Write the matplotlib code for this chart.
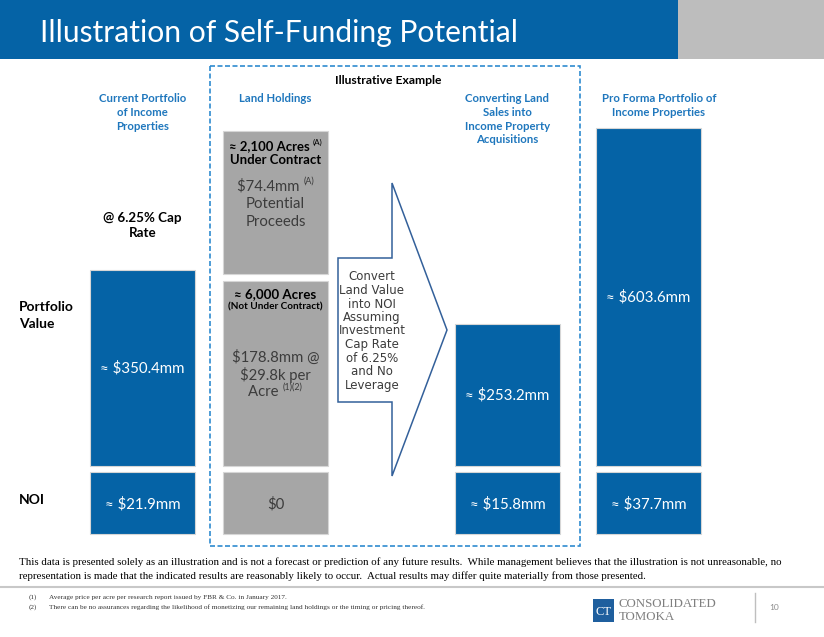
import matplotlib
matplotlib.use("Agg")
import matplotlib.pyplot as plt
from matplotlib.patches import Rectangle, Polygon

# ---------------- data ----------------
title = "Illustration of Self-Funding Potential"
column_headers = ["Current Portfolio\nof Income\nProperties",
                  "Land Holdings",
                  "Converting Land\nSales into\nIncome Property\nAcquisitions",
                  "Pro Forma Portfolio of\nIncome Properties"]
row_labels = ["Portfolio\nValue", "NOI"]
portfolio_value_mm = [350.4, 253.2, 603.6]      # current, converted, pro forma
noi_mm = [21.9, 0.0, 15.8, 37.7]                # current, land, converted, pro forma
land_acres = [2100, 6000]                       # under contract, not under contract
land_value_mm = [74.4, 178.8]
price_per_acre_k = 29.8
cap_rate_pct = 6.25
callout_lines = ["Convert", "Land Value", "into NOI", "Assuming", "Investment",
                 "Cap Rate", "of 6.25%", "and No", "Leverage"]
disclaimer = ["This data is presented solely as an illustration and is not a forecast or prediction of any future results.  While management believes that the illustration is not unreasonable, no",
              "representation is made that the indicated results are reasonably likely to occur.  Actual results may differ quite materially from those presented."]
footnotes = ["Average price per acre per research report issued by FBR & Co. in January 2017.",
             "There can be no assurances regarding the likelihood of monetizing our remaining land holdings or the timing or pricing thereof."]

# ---------------- style ----------------
W, H = 824, 637
BLUE = "#0563a6"
HBLUE = "#1f77bd"
GREY = "#a6a6a6"
DARK = "#3c3c3c"
FONT = ["Lato", "DejaVu Sans"]
WIDE = ["DejaVu Sans"]
SERIF = ["Liberation Serif", "DejaVu Serif"]

fig = plt.figure(figsize=(W / 100, H / 100), dpi=100)
ax = fig.add_axes([0, 0, 1, 1])
ax.set_xlim(0, W)
ax.set_ylim(H, 0)
ax.axis("off")
renderer = fig.canvas.get_renderer()


def size_for(s, target, weight="normal", family=FONT, base=10):
    t = ax.text(0, 0, s, fontsize=base, fontweight=weight, family=family, parse_math=False)
    w = t.get_window_extent(renderer).width
    t.remove()
    return base * target / w


def txt(x, y, s, size, color="black", weight="normal", ha="center", va="center", family=FONT, **kw):
    return ax.text(x, y, s, fontsize=size, color=color, fontweight=weight, ha=ha, va=va,
                   family=family, parse_math=False, **kw)


def lines(x, y0, dy, strs, size, **kw):
    for i, s in enumerate(strs):
        txt(x, y0 + i * dy, s, size, **kw)


def rich(x, y, segs, color="black", family=FONT):
    """segs: (text, size, weight, dy)"""
    objs, widths = [], []
    for s, size, weight, dy in segs:
        t = ax.text(0, y + dy, s, fontsize=size, fontweight=weight, color=color, ha="left",
                    va="center", family=family, parse_math=False)
        objs.append(t)
        widths.append(t.get_window_extent(renderer).width)
    cur = x - sum(widths) / 2
    for t, w in zip(objs, widths):
        t.set_x(cur)
        cur += w


# ---------------- title bar ----------------
ax.add_patch(Rectangle((0, 0), 678, 59, color=BLUE, lw=0))
ax.add_patch(Rectangle((678, 0), W - 678, 59, color="#bdbdbd", lw=0))
ts = size_for(title, 478)
txt(40, 42, title, ts, color="white", ha="left", va="baseline")

# ---------------- dashed illustrative box ----------------
ax.add_patch(Rectangle((210, 66), 370, 480, fill=False, ec="#2f8bd0", lw=1.2,
                       ls=(0, (3, 1.5))))
txt(388, 80, "Illustrative Example", size_for("Illustrative Example", 107, "bold"), weight="bold")

# ---------------- columns ----------------
col_x = [142.5, 275.5, 507.5, 648.5]
bw = 105
base_y = 466
SCALE = 0.56
edge = "#d6d6d6"

hs = size_for("Current Portfolio", 87, "bold")
for cx, hdr in zip([142.5, 275.5, 507.5, 659], column_headers):
    lines(cx, 99, 13.6, hdr.split("\n"), hs, color=HBLUE, weight="bold")

# portfolio value bars (blue)
blue_x = [col_x[0], col_x[2], col_x[3]]
heights = [-v * SCALE for v in portfolio_value_mm]
ax.bar(blue_x, heights, bottom=base_y, width=bw, color=BLUE, edgecolor=edge, linewidth=0.8)
vs = size_for("≈ $350.4mm", 84)
for x, h, v in zip(blue_x, heights, portfolio_value_mm):
    txt(x, base_y + h / 2, f"≈ ${v:.1f}mm", vs, color="white")

# land holding boxes (grey)
land_bottoms = [274, base_y]
land_heights = [-143, -185]
ax.bar([col_x[1]] * 2, land_heights, bottom=land_bottoms, width=bw, color=GREY,
       edgecolor=edge, linewidth=0.8)

# NOI boxes
noi_colors = [BLUE, GREY, BLUE, BLUE]
ax.bar(col_x, [-62] * 4, bottom=534, width=bw, color=noi_colors, edgecolor=edge, linewidth=0.8)
for x, v, c in zip(col_x, noi_mm, noi_colors):
    lab = "$0" if v == 0 else f"≈ ${v:.1f}mm"
    txt(x, 504, lab, vs, color="white" if c == BLUE else DARK)

# land box texts
bs = size_for("Under Contract", 91, "bold")
rich(col_x[1], 146, [(f"≈ {land_acres[0]:,} Acres ", bs, "bold", 0), ("(A)", bs * 0.62, "normal", -4)])
txt(col_x[1], 160, "Under Contract", bs, weight="bold")
ls_ = size_for("$178.8mm @", 87)
rich(col_x[1], 186, [(f"${land_value_mm[0]:.1f}mm ", ls_, "normal", 0),
                     ("(A)", ls_ * 0.6, "normal", -5)], color=DARK)
lines(col_x[1], 204, 18, ["Potential", "Proceeds"], ls_, color=DARK)

txt(col_x[1], 294, f"≈ {land_acres[1]:,} Acres", bs * 1.02, weight="bold")
txt(col_x[1], 307, "(Not Under Contract)", size_for("(Not Under Contract)", 95, "bold"), weight="bold")
lines(col_x[1], 357, 18, [f"${land_value_mm[1]:.1f}mm @", f"${price_per_acre_k:.1f}k per"], ls_, color=DARK)
rich(col_x[1], 392, [("Acre ", ls_, "normal", 0), ("(1)(2)", ls_ * 0.6, "normal", -5)], color=DARK)

# cap rate note
cs = size_for(f"@ {cap_rate_pct}% Cap", 78, "bold")
lines(col_x[0], 218, 15, [f"@ {cap_rate_pct}% Cap", "Rate"], cs, weight="bold")

# row labels
rs = size_for("Portfolio", 55, "bold")
for i, s in enumerate(row_labels[0].split("\n")):
    txt(19, 307 + i * 17, s, rs, weight="bold", ha="left")
txt(19, 500, row_labels[1], rs, weight="bold", ha="left")

# ---------------- callout arrow ----------------
arrow = [(338, 258), (392, 258), (392, 183), (447, 330), (392, 476), (392, 402), (338, 402)]
ax.add_patch(Polygon(arrow, closed=True, fc="white", ec="#33609a", lw=1.1, zorder=3))
cls = size_for("Land Value", 65, family=WIDE)
lines(372, 277, 13.5, callout_lines, cls, color=DARK, family=WIDE, zorder=4)

# ---------------- footer ----------------
fs = size_for(disclaimer[0], 755, family=SERIF)
for i, s in enumerate(disclaimer):
    txt(19, 562 + i * 14, s, fs, ha="left", family=SERIF)
ax.plot([0, W], [587, 587], color="#c8c8c8", lw=1.5)
fns = size_for(footnotes[0], 237, family=SERIF)
for i, s in enumerate(footnotes):
    txt(29, 597 + i * 10, f"({i + 1})", fns, ha="left", family=SERIF, color="#333333")
    txt(49, 597 + i * 10, s, fns, ha="left", family=SERIF, color="#333333")

# logo
ax.add_patch(Rectangle((593, 599), 21, 23, color="#1f5f9e", lw=0))
txt(603.5, 612, "CT", 9, color="white", family=SERIF)
lgs = size_for("CONSOLIDATED", 98, family=SERIF)
txt(619, 604, "CONSOLIDATED", lgs, color="#7f7f7f", ha="left", family=SERIF)
txt(619, 617, "TOMOKA", lgs, color="#7f7f7f", ha="left", family=SERIF)
ax.plot([755, 755], [593, 622], color="#bfbfbf", lw=1)
txt(769, 607, "10", 6, color="#8c8c8c", ha="left")

fig.savefig("out.png", dpi=100)
